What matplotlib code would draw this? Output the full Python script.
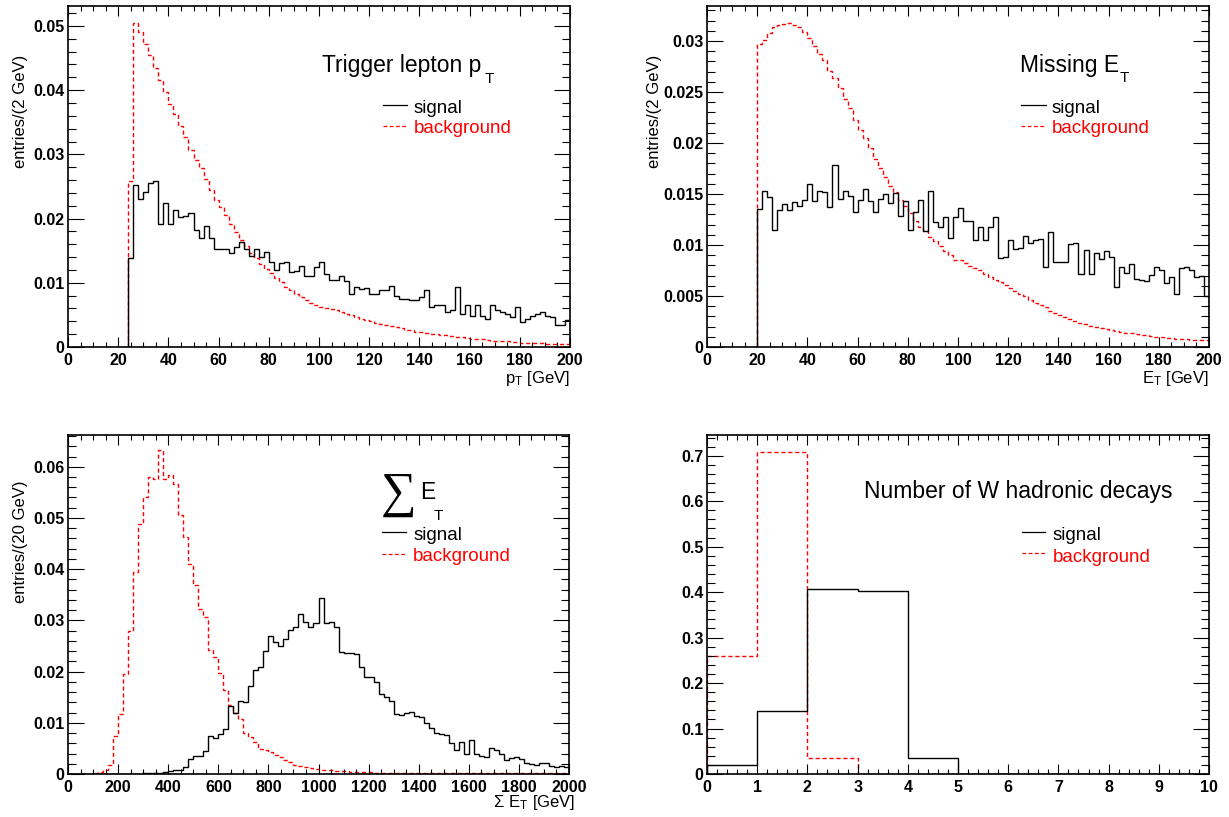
import numpy as np
import matplotlib
matplotlib.use('Agg')
import matplotlib.pyplot as plt
from matplotlib.ticker import MultipleLocator, FuncFormatter

plt.rcParams['font.family'] = ['Liberation Sans', 'DejaVu Sans']
plt.rcParams['mathtext.fontset'] = 'custom'
plt.rcParams['mathtext.rm'] = 'Liberation Sans'

# ---- Trigger lepton pT, 2 GeV bins starting at 24 GeV
pt_sig = [0.0138, 0.0252, 0.0231, 0.0242, 0.0255, 0.0258, 0.0192, 0.0225, 0.0192, 0.0214,
          0.0202, 0.0204, 0.0208, 0.0182, 0.0170, 0.0188, 0.0170, 0.0152, 0.0153, 0.0152,
          0.0147, 0.0156, 0.0164, 0.0152, 0.0141, 0.0152, 0.0140, 0.0148, 0.0132, 0.0120,
          0.0131, 0.0132, 0.0117, 0.0118, 0.0126, 0.0111, 0.0110, 0.0125,
          0.0132, 0.0113, 0.0105, 0.0105, 0.0110, 0.0102, 0.0083, 0.0094, 0.0091, 0.0092,
          0.0083, 0.0083, 0.0088, 0.0088, 0.0095, 0.0080, 0.0075, 0.0075, 0.0073, 0.0073,
          0.0078, 0.0088, 0.0062, 0.0066, 0.0066, 0.0055, 0.0057, 0.0094, 0.0052, 0.0065,
          0.0049, 0.0065, 0.0049, 0.0044, 0.0065, 0.0057, 0.0055, 0.0052, 0.0047, 0.0062,
          0.0039, 0.0044, 0.0049, 0.0052, 0.0055, 0.0048, 0.0047, 0.0034, 0.0034, 0.0042]
pt_bkg = [0.0258, 0.0505, 0.0491, 0.0472, 0.0454, 0.0434, 0.0415, 0.0397, 0.0378, 0.0363,
          0.0344, 0.0327, 0.0306, 0.0291, 0.0278, 0.0261, 0.0245, 0.0229, 0.0218, 0.0205,
          0.0191, 0.0179, 0.0167, 0.0157, 0.0146, 0.0139, 0.0130, 0.0122, 0.0115, 0.0108,
          0.0101, 0.0094, 0.0089, 0.0083, 0.0078, 0.0073, 0.0069, 0.0065,
          0.0063, 0.0061, 0.0059, 0.0057, 0.0055, 0.0052, 0.0050, 0.0047, 0.0044, 0.0042,
          0.0040, 0.0038, 0.0036, 0.0034, 0.0032, 0.0031, 0.0029, 0.0027, 0.0026, 0.0024,
          0.0023, 0.0022, 0.0021, 0.0020, 0.0019, 0.0018, 0.0017, 0.0016, 0.0015, 0.0014,
          0.0013, 0.0012, 0.0012, 0.0011, 0.0010, 0.0010, 0.0009, 0.0009, 0.0008, 0.0008,
          0.0007, 0.0007, 0.0006, 0.0006, 0.0006, 0.0005, 0.0005, 0.0004, 0.0004, 0.0004]

# ---- Missing ET, 2 GeV bins starting at 20 GeV
met_sig = [0.0135, 0.0153, 0.0147, 0.0115, 0.0134, 0.0140, 0.0134, 0.0142, 0.0138, 0.0144,
           0.0160, 0.0143, 0.0153, 0.0152, 0.0137, 0.0178, 0.0145, 0.0153, 0.0148, 0.0132,
           0.0144, 0.0155, 0.0143, 0.0132, 0.0145, 0.0150, 0.0141, 0.0151, 0.0128, 0.0143,
           0.0115, 0.0132, 0.0144, 0.0114, 0.0153, 0.0123, 0.0118, 0.0127, 0.0107, 0.0127,
           0.0136, 0.0124, 0.0124, 0.0105, 0.0118, 0.0105, 0.0118, 0.0127, 0.0087, 0.0088,
           0.0105, 0.0096, 0.0097, 0.0109, 0.0102, 0.0105, 0.0106, 0.0078, 0.0113, 0.0083,
           0.0083, 0.0083, 0.0101, 0.0102, 0.0072, 0.0095, 0.0072, 0.0092, 0.0086, 0.0094,
           0.0088, 0.0059, 0.0078, 0.0073, 0.0081, 0.0067, 0.0066, 0.0065, 0.0071, 0.0078,
           0.0075, 0.0063, 0.0069, 0.0052, 0.0077, 0.0078, 0.0075, 0.0069, 0.0070, 0.0050]
met_bkg = [0.0297, 0.0301, 0.0308, 0.0314, 0.0316, 0.0317, 0.0318, 0.0316, 0.0314, 0.0309,
           0.0303, 0.0295, 0.0287, 0.0281, 0.0271, 0.0264, 0.0254, 0.0243, 0.0234, 0.0223,
           0.0213, 0.0205, 0.0195, 0.0184, 0.0175, 0.0167, 0.0158, 0.0152, 0.0144, 0.0138,
           0.0131, 0.0124, 0.0118, 0.0114, 0.0108, 0.0104, 0.0099, 0.0094, 0.0090, 0.0085,
           0.0085, 0.0082, 0.0079, 0.0077, 0.0075, 0.0072, 0.0069, 0.0066, 0.0064, 0.0061,
           0.0058, 0.0055, 0.0052, 0.0050, 0.0046, 0.0043, 0.0041, 0.0039, 0.0035, 0.0033,
           0.0031, 0.0029, 0.0027, 0.0025, 0.0024, 0.0023, 0.0021, 0.0020, 0.0019, 0.0018,
           0.0017, 0.0016, 0.0015, 0.0014, 0.0014, 0.0013, 0.0012, 0.0012, 0.0011, 0.0010,
           0.0010, 0.0009, 0.0009, 0.0008, 0.0008, 0.0008, 0.0007, 0.0007, 0.0007, 0.0007]

# ---- Sum ET, 20 GeV bins from 0 to 2000
sumet_sig = [0, 0, 0, 0, 0, 0, 0, 0, 0, 0,
             0, 0, 0, 0, 0, 0.0001, 0.0001, 0.0002, 0.0002, 0.0003,
             0.0006, 0.0007, 0.0008, 0.0014, 0.0030, 0.0035, 0.0036, 0.0044, 0.0074, 0.0070,
             0.0079, 0.0087, 0.0133, 0.0120, 0.0143, 0.0141, 0.0172, 0.0203, 0.0208, 0.0240,
             0.0269, 0.0258, 0.0249, 0.0263, 0.0282, 0.0288, 0.0312, 0.0297, 0.0288, 0.0295,
             0.0343, 0.0295, 0.0297, 0.0288, 0.0239, 0.0237, 0.0237, 0.0234, 0.0208, 0.0190,
             0.0189, 0.0180, 0.0157, 0.0151, 0.0143, 0.0118, 0.0115, 0.0120, 0.0122, 0.0113,
             0.0111, 0.0100, 0.0089, 0.0081, 0.0079, 0.0076, 0.0061, 0.0047, 0.0063, 0.0040,
             0.0066, 0.0040, 0.0035, 0.0033, 0.0050, 0.0047, 0.0039, 0.0027, 0.0031, 0.0033,
             0.0029, 0.0021, 0.0020, 0.0018, 0.0022, 0.0022, 0.0016, 0.0013, 0.0016, 0.0013]
sumet_bkg = [0, 0, 0, 0, 0, 0.0001, 0.0003, 0.0008, 0.0018, 0.0074,
             0.0118, 0.0196, 0.0280, 0.0395, 0.0489, 0.0541, 0.0580, 0.0577, 0.0632, 0.0577,
             0.0584, 0.0567, 0.0506, 0.0463, 0.0411, 0.0369, 0.0323, 0.0307, 0.0242, 0.0229,
             0.0198, 0.0165, 0.0135, 0.0120, 0.0107, 0.0081, 0.0073, 0.0063, 0.0048, 0.0046,
             0.0042, 0.0037, 0.0033, 0.0027, 0.0024, 0.0018, 0.0016, 0.0013, 0.0011, 0.0009,
             0.0008, 0.0007, 0.0007, 0.0006, 0.0005, 0.0005, 0.0004, 0.0004, 0.0003, 0.0003,
             0.0003, 0.0002, 0.0002, 0.0002, 0.0002, 0.0002, 0.0001, 0.0001, 0.0001, 0.0001,
             0.0001, 0.0001, 0.0001, 0.0001, 0.0001, 0.0001, 0.0001, 0.0001, 0.0001, 0.0001,
             0.0001, 0.0001, 0.0001, 0.0001, 0.0001, 0.0001, 0.0001, 0.0001, 0.0001, 0.0001,
             0.0001, 0.0001, 0.0001, 0.0001, 0.0001, 0.0001, 0.0001, 0.0001, 0.0001, 0.0001]

# ---- Number of W hadronic decays, unit bins 0..10
nw_sig = [0.020, 0.138, 0.406, 0.402, 0.035, 0, 0, 0, 0, 0]
nw_bkg = [0.259, 0.709, 0.035, 0.001, 0.0005, 0, 0, 0, 0, 0]

RED = '#ff0000'
DASH = (0, (3, 2))

fig = plt.figure(figsize=(12.29, 8.17), dpi=100)
W, H = 1229, 817


def make_axes(x0, x1, ytop, ybot):
    return fig.add_axes([x0 / W, (H - ybot) / H, (x1 - x0) / W, (ybot - ytop) / H])


ax1 = make_axes(68, 570, 6, 347)
ax2 = make_axes(707, 1209, 6, 347)
ax3 = make_axes(68, 569, 435, 774)
ax4 = make_axes(707, 1209, 435, 774)


def fmt(v, pos):
    if abs(v) < 1e-12:
        return '0'
    return '%g' % round(v, 6)


def style(ax, xmaj, xmin, ymaj, ymin):
    ax.xaxis.set_major_locator(MultipleLocator(xmaj))
    ax.xaxis.set_minor_locator(MultipleLocator(xmin))
    ax.yaxis.set_major_locator(MultipleLocator(ymaj))
    ax.yaxis.set_minor_locator(MultipleLocator(ymin))
    ax.xaxis.set_major_formatter(FuncFormatter(fmt))
    ax.yaxis.set_major_formatter(FuncFormatter(fmt))
    ax.tick_params(axis='both', which='both', direction='in', top=True, right=True,
                   width=0.8, color='black')
    ax.tick_params(axis='x', which='major', length=7.2, pad=4)
    ax.tick_params(axis='x', which='minor', length=3.6)
    ax.tick_params(axis='y', which='major', length=11.5, pad=2.5)
    ax.tick_params(axis='y', which='minor', length=5.8)
    for lab in ax.get_xticklabels() + ax.get_yticklabels():
        lab.set_fontweight('bold')
        lab.set_fontsize(11.5)
    for sp in ax.spines.values():
        sp.set_linewidth(1.2)
        sp.set_zorder(5)


def legend(ax, x0, x1, xt, ysig, ybg, ysig_t, ybg_t):
    ax.plot([x0, x1], [ysig, ysig], color='black', lw=0.9, transform=ax.transAxes)
    ax.plot([x0, x1], [ybg, ybg], color=RED, lw=0.9, ls=DASH, transform=ax.transAxes)
    ax.text(xt, ysig_t, 'signal', transform=ax.transAxes, fontsize=13.5, va='baseline')
    ax.text(xt, ybg_t, 'background', transform=ax.transAxes, fontsize=13.5,
            va='baseline', color=RED)


def ylab(ax, x, ytop, s):
    ax.text(x, ytop, s, transform=ax.transAxes, rotation=90, ha='center', va='top',
            fontsize=12)


# panel 1
ax1.stairs(pt_bkg, np.arange(24, 201, 2), baseline=0, color=RED, lw=1.0, ls=DASH)
ax1.stairs(pt_sig, np.arange(24, 201, 2), baseline=0, color='black', lw=1.0)
ax1.set_xlim(0, 200)
ax1.set_ylim(0, 0.0531)
style(ax1, 20, 5, 0.01, 0.002)
ax1.text(0.506, 0.806, 'Trigger lepton p', transform=ax1.transAxes, fontsize=16.5, va='baseline')
ax1.text(0.8307, 0.774, 'T', transform=ax1.transAxes, fontsize=11, va='baseline')
legend(ax1, 0.6275, 0.6753, 0.689, 0.710, 0.648, 0.686, 0.628)
ylab(ax1, -0.0956, 0.856, 'entries/(2 GeV)')
ax1.text(1.0, -0.091, r'$\mathregular{p_T}$ [GeV]', transform=ax1.transAxes,
         ha='right', va='center', fontsize=12)

# panel 2
ax2.stairs(met_bkg, np.arange(20, 201, 2), baseline=0, color=RED, lw=1.0, ls=DASH)
ax2.stairs(met_sig, np.arange(20, 201, 2), baseline=0, color='black', lw=1.0)
ax2.set_xlim(0, 200)
ax2.set_ylim(0, 0.03343)
style(ax2, 20, 5, 0.005, 0.001)
ax2.text(0.6235, 0.806, 'Missing E', transform=ax2.transAxes, fontsize=16.5, va='baseline')
ax2.text(0.8227, 0.777, 'T', transform=ax2.transAxes, fontsize=11, va='baseline')
legend(ax2, 0.6255, 0.675, 0.687, 0.710, 0.648, 0.686, 0.628)
ylab(ax2, -0.1036, 0.856, 'entries/(2 GeV)')
ax2.text(1.0, -0.091, r'$\mathregular{E_T}$ [GeV]', transform=ax2.transAxes,
         ha='right', va='center', fontsize=12)

# panel 3
ax3.stairs(sumet_bkg, np.arange(0, 2001, 20), baseline=0, color=RED, lw=1.0, ls=DASH)
ax3.stairs(sumet_sig, np.arange(0, 2001, 20), baseline=0, color='black', lw=1.0)
ax3.set_xlim(0, 2000)
ax3.set_ylim(0, 0.0662)
style(ax3, 200, 50, 0.01, 0.002)
ax3.text(0.625, 0.788, '\u2211', transform=ax3.transAxes, fontsize=36, va='baseline',
         family=['Liberation Serif', 'DejaVu Serif'])
ax3.text(0.7026, 0.811, 'E', transform=ax3.transAxes, fontsize=16.5, va='baseline')
ax3.text(0.7305, 0.749, 'T', transform=ax3.transAxes, fontsize=11, va='baseline')
legend(ax3, 0.6275, 0.6753, 0.689, 0.714, 0.650, 0.690, 0.627)
ylab(ax3, -0.0956, 0.867, 'entries/(20 GeV)')
ax3.text(1.012, -0.083, r'$\mathregular{\Sigma\ E_T}$ [GeV]', transform=ax3.transAxes,
         ha='right', va='center', fontsize=12)

# panel 4
ax4.stairs(nw_bkg, np.arange(0, 11), baseline=0, color=RED, lw=1.0, ls=DASH)
ax4.stairs(nw_sig, np.arange(0, 11), baseline=0, color='black', lw=1.0)
ax4.set_xlim(0, 10)
ax4.set_ylim(0, 0.7455)
style(ax4, 1, 0.2, 0.1, 0.02)
ax4.text(0.3127, 0.814, 'Number of W hadronic decays', transform=ax4.transAxes,
         fontsize=16.5, va='baseline')
legend(ax4, 0.6275, 0.673, 0.689, 0.714, 0.652, 0.690, 0.625)

fig.savefig('out.png', dpi=100)
